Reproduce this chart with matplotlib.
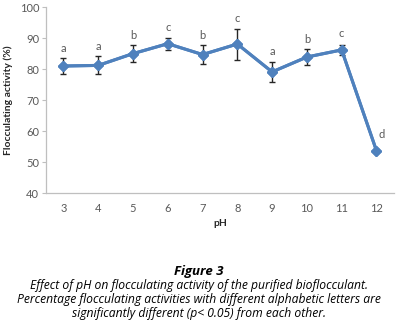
import matplotlib
matplotlib.use("Agg")
import matplotlib.pyplot as plt
import numpy as np

# pH values and flocculating activity (%)
ph = [3, 4, 5, 6, 7, 8, 9, 10, 11, 12]
activity = [81.0, 81.2, 85.0, 88.2, 84.7, 88.1, 79.1, 83.9, 86.2, 53.7]
err = [2.6, 2.9, 2.8, 2.0, 3.0, 5.0, 3.3, 2.5, 1.7, 0.6]
letters = ["a", "a", "b", "c", "b", "c", "a", "b", "c", "d"]

caption_title = "Figure 3"
caption_text = ("Effect of pH on flocculating activity of the purified bioflocculant.\n"
                "Percentage flocculating activities with different alphabetic letters are\n"
                "significantly different (p< 0.05) from each other.")

blue = "#4F81BD"
grey_text = "#595959"
axis_grey = "#BFBFBF"


def main():
    plt.rcParams['font.family'] = ['Lato', 'DejaVu Sans']
    fig = plt.figure(figsize=(3.97, 3.25), dpi=100)
    ax = fig.add_axes([0.116, 0.406, 0.876, 0.572])

    x = np.arange(len(ph))
    ax.errorbar(x, activity, yerr=err, color=blue, lw=2.2, marker="D", ms=5,
                ecolor="#262626", elinewidth=1.0, capsize=2.5, capthick=1.0, zorder=3)
    ax.errorbar(x, activity, yerr=None, color=blue, lw=2.2, marker="D", ms=5, zorder=4)

    for xi, v, e, lab in zip(x, activity, err, letters):
        top = v + max(e, 2.0)
        dx = 0.15 if lab == "d" else 0.0
        ax.text(xi + dx, top + 1.4, lab, ha="center", va="bottom", fontsize=8, color=grey_text)

    ax.set_xlim(-0.5, len(ph) - 0.5)
    ax.set_ylim(40, 100)
    ax.set_yticks(np.arange(40, 101, 10))
    ax.set_xticks(x)
    ax.set_xticklabels([str(p) for p in ph])

    for s in ["top", "right"]:
        ax.spines[s].set_visible(False)
    for s in ["left", "bottom"]:
        ax.spines[s].set_color(axis_grey)
        ax.spines[s].set_linewidth(0.9)
    ax.tick_params(axis="y", length=3, color=axis_grey, labelsize=8, labelcolor=grey_text, pad=2)
    ax.tick_params(axis="x", length=0, labelsize=8, labelcolor=grey_text, pad=7)

    ax.set_xlabel("pH", fontsize=7.5, fontweight="bold", color="#262626", labelpad=4)
    ax.set_ylabel("Flocculating activity (%)", fontsize=7.5, fontweight="bold",
                  color="#262626", labelpad=5)

    fig.text(0.5, 1 - 271 / 325, caption_title, ha="center", va="center",
             fontsize=9.5, fontweight="bold", style="italic", family=["Open Sans", "DejaVu Sans"])
    fig.text(0.5, 1 - 300 / 325, caption_text, ha="center", va="center",
             fontsize=8.7, style="italic", linespacing=1.1, family=["Open Sans", "DejaVu Sans"])

    fig.savefig("out.png", dpi=100)


if __name__ == "__main__":
    main()
